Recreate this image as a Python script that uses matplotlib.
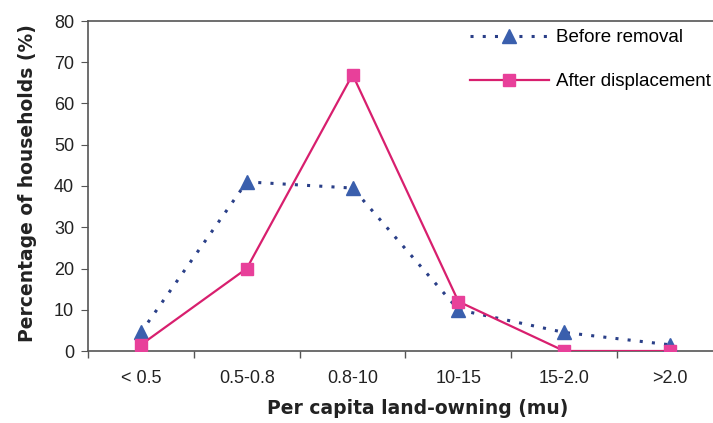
import matplotlib
matplotlib.use("Agg")
import matplotlib.pyplot as plt

categories = ["< 0.5", "0.5-0.8", "0.8-10", "10-15", "15-2.0", ">2.0"]
before_removal = [4.5, 41, 39.5, 10, 4.5, 1.5]
after_displacement = [1.5, 20, 67, 12, 0, 0]
y_ticks = [0, 10, 20, 30, 40, 50, 60, 70, 80]

plt.rcParams["font.family"] = ["Liberation Sans", "DejaVu Sans"]

W, H = 713, 423
fig = plt.figure(figsize=(W / 100, H / 100), dpi=100)
ax = fig.add_axes([88 / W, (H - 351) / H, (723 - 88) / W, 330 / H])

x = list(range(len(categories)))
ax.plot(x, before_removal, linestyle=(0, (1, 3)), color="#2a3f88", linewidth=2.2,
        marker="^", markersize=9.5, markerfacecolor="#3a5fad",
        markeredgecolor="#3a5fad", label="Before removal", zorder=3)
ax.plot(x, after_displacement, linestyle="-", color="#d81f6e", linewidth=1.6,
        marker="s", markersize=8.5, markerfacecolor="#e8409a",
        markeredgecolor="#e8409a", label="After displacement", zorder=4)

ax.set_xlim(-0.5, len(categories) - 0.5)
ax.set_ylim(0, 80)
ax.set_yticks(y_ticks)
ax.set_yticklabels([str(v) for v in y_ticks])

# category labels centred, tick marks on the category boundaries
ax.set_xticks(x)
ax.set_xticklabels(categories)
ax.tick_params(axis="x", which="major", length=0, pad=14, labelsize=13,
               labelcolor="#222222")
ax.set_xticks([i - 0.5 for i in range(len(categories) + 1)], minor=True)
ax.tick_params(axis="x", which="minor", length=5, direction="out",
               color="#555555", width=1)
ax.tick_params(axis="y", length=5, direction="out", color="#555555",
               labelsize=13, labelcolor="#222222", pad=5)

for side in ["left", "bottom", "top"]:
    ax.spines[side].set_color("#555555")
    ax.spines[side].set_linewidth(1.2)
ax.spines["right"].set_visible(False)

fig.text(28 / W, 1 - 183 / H, "Percentage of households (%)", rotation=90,
         ha="center", va="center", fontsize=13.5, fontweight="bold",
         color="#222222", family="DejaVu Sans")
fig.text(418 / W, 1 - 408 / H, "Per capita land-owning (mu)",
         ha="center", va="center", fontsize=13.5, fontweight="bold",
         color="#222222", family="DejaVu Sans")

ax.legend(loc="upper left", bbox_to_anchor=(470 / W, 1 - 29 / H),
          bbox_transform=fig.transFigure, frameon=False, fontsize=13.5,
          handlelength=4.2, handletextpad=0.4, labelspacing=1.45,
          borderpad=0, borderaxespad=0, markerscale=1.0)

fig.savefig("out.png", dpi=100)
